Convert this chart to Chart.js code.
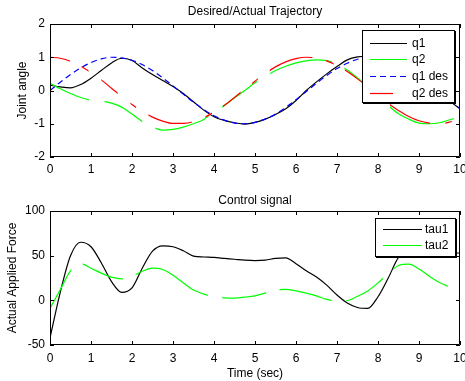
<!DOCTYPE html>
<html>
<head>
<meta charset="utf-8">
<script src="https://cdn.jsdelivr.net/npm/chart.js@4.4.1/dist/chart.umd.min.js"></script>
<style>
    html, body { margin: 0; padding: 0; background: #fff; }
    #wrap { position: relative; width: 465px; height: 381px; }
    canvas { position: absolute; left: 0; }
</style>
</head>
<body>
<div id="wrap">
    <canvas id="trajectory" width="465" height="190" style="top:0"></canvas>
    <canvas id="control" width="465" height="191" style="top:190px"></canvas>
</div>
<script>
// time axis (sec)
const time = [0, 0.25, 0.5, 0.75, 1, 1.25, 1.5, 1.75, 2, 2.25, 2.5, 2.75, 3, 3.25, 3.5, 3.75,
    4, 4.25, 4.5, 4.75, 5, 5.25, 5.5, 5.75, 6, 6.25, 6.5, 6.75, 7, 7.25, 7.5, 7.75,
    8, 8.25, 8.5, 8.75, 9, 9.25, 9.5, 9.75, 10];

// joint angles (top plot)
const q1 = [0.16, 0.11, 0.08, 0.18, 0.37, 0.6, 0.83, 0.97, 0.9, 0.68, 0.48, 0.3, 0.12, -0.09, -0.34, -0.59,
    -0.79, -0.9, -0.97, -1.01, -0.96, -0.86, -0.72, -0.55, -0.3, 0.0, 0.26, 0.5, 0.72, 0.92, 1.01, 1.03,
    1.0, 0.93, 0.8, 0.62, 0.42, 0.18, -0.08, -0.32, -0.55];
const q2 = [0.22, 0.05, -0.09, -0.21, -0.29, -0.31, -0.38, -0.5, -0.71, -0.93, -1.1, -1.19, -1.17, -1.1, -1.0, -0.87,
    -0.64, -0.45, -0.22, 0.0, 0.23, 0.42, 0.6, 0.73, 0.83, 0.89, 0.92, 0.9, 0.79, 0.62, 0.38, 0.12,
    -0.15, -0.45, -0.7, -0.86, -0.98, -1.0, -0.97, -0.88, -0.8];
const q1Des = [0, 0.25, 0.48, 0.68, 0.84, 0.95, 1.0, 0.98, 0.91, 0.78, 0.6, 0.38, 0.14, -0.11, -0.35, -0.57,
    -0.76, -0.89, -0.98, -1.0, -0.96, -0.86, -0.71, -0.51, -0.28, -0.03, 0.22, 0.45, 0.66, 0.82, 0.94, 0.99,
    0.99, 0.92, 0.8, 0.62, 0.41, 0.18, -0.08, -0.32, -0.54];
const q2Des = [1.0, 0.97, 0.88, 0.73, 0.54, 0.32, 0.07, -0.18, -0.42, -0.63, -0.8, -0.92, -0.99, -0.99, -0.94, -0.82,
    -0.65, -0.45, -0.21, 0.04, 0.28, 0.51, 0.71, 0.86, 0.96, 1.0, 0.98, 0.89, 0.75, 0.57, 0.35, 0.11,
    -0.15, -0.39, -0.6, -0.78, -0.91, -0.98, -1.0, -0.95, -0.84];

// control signal (bottom plot)
const tau1 = [-42, 9, 50, 65, 60, 42, 21, 9, 14, 36, 55, 61, 60, 55.5, 49.5, 48.5,
    48, 47, 46, 45, 44.5, 45, 47, 47.5, 41, 33, 26, 17, 6, -3, -8, -9,
    4, 25, 48, 57, 58, 56, 54, 53, 53];
const tau2 = [-9, 12, 33, 41, 36, 30.5, 26, 24, 27, 32.5, 36, 34.5, 28, 19.5, 11.5, 7,
    4, 2.7, 2.5, 3.5, 5, 8, 11.5, 12.3, 10.5, 8, 5, 1, -1, -0.5, 4.5, 10.5,
    19.5, 30, 39, 40.5, 35, 27, 20, 15, 11];

const yTicksTop = [-2, -1, 0, 1, 2];
const yTicksBottom = [-50, 0, 50, 100];

// 선이 끊겨 보이는 구간 재현 (보이는 시간 구간)
const q2Shown = [[0, 0.95], [1.33, 2.25], [2.57, 3.87], [4.2, 5.05], [5.37, 6.88], [7.18, 8.0], [8.29, 9.85]];
const q2DesShown = [[0, 0.49], [0.77, 0.94], [1.25, 1.65], [1.96, 2.1], [2.4, 3.46], [3.79, 3.95], [4.22, 4.65],
    [4.93, 5.07], [5.36, 6.4], [6.73, 6.92], [7.19, 8.0], [8.29, 9.27], [9.64, 9.8]];
const tau2Shown = [[0, 0.52], [0.8, 1.78], [2.09, 3.85], [4.2, 5.27], [5.6, 6.87], [7.22, 8.12], [8.37, 9.7]];

const BLACK = '#000000', GREEN = '#00ff00', BLUE = '#0000ff', RED = '#ff0000';
const LINE_W = 1.2;
const FONT = '"Liberation Sans", Arial, Helvetica, sans-serif';
Chart.defaults.font.family = FONT;
Chart.defaults.font.size = 12;
Chart.defaults.color = '#000';

// clip a dataset to its visible spans
function spanClip(spans) {
    return {
        id: 'spanClip',
        beforeDatasetDraw(chart, args) {
            const s = spans[args.index];
            if (!s) return;
            const ctx = chart.ctx, x = chart.scales.x;
            ctx.save();
            ctx.beginPath();
            s.forEach(([a, b]) => {
                const x0 = x.getPixelForValue(a), x1 = x.getPixelForValue(b);
                ctx.rect(x0, 0, x1 - x0, chart.height);
            });
            ctx.clip();
        },
        afterDatasetDraw(chart, args) {
            if (spans[args.index]) chart.ctx.restore();
        }
    };
}

// matlab style box with inward ticks
const frame = {
    id: 'frame',
    afterDatasetsDraw(chart) {
        const {ctx, chartArea: a, scales: {x, y}} = chart;
        const L = 4;
        ctx.save();
        ctx.strokeStyle = '#000';
        ctx.lineWidth = 1;
        ctx.beginPath();
        ctx.rect(a.left + 0.5, a.top + 0.5, a.right - a.left - 1, a.bottom - a.top - 1);
        x.ticks.forEach(t => {
            const px = Math.round(x.getPixelForValue(t.value)) + 0.5;
            ctx.moveTo(px, a.bottom); ctx.lineTo(px, a.bottom - L);
            ctx.moveTo(px, a.top); ctx.lineTo(px, a.top + L);
        });
        y.ticks.forEach(t => {
            const py = Math.round(y.getPixelForValue(t.value)) + 0.5;
            ctx.moveTo(a.left, py); ctx.lineTo(a.left + L, py);
            ctx.moveTo(a.right, py); ctx.lineTo(a.right - L, py);
        });
        ctx.stroke();
        ctx.restore();
    }
};

function boxLegend(o) {
    return {
        id: 'boxLegend',
        afterDraw(chart) {
            const {ctx, chartArea: a} = chart;
            const x0 = Math.round(a.right - o.right - o.width);
            const y0 = Math.round(a.top + o.top);
            ctx.save();
            ctx.fillStyle = '#fff';
            ctx.fillRect(x0, y0, o.width, o.height);
            ctx.strokeStyle = '#000';
            ctx.lineWidth = 1;
            ctx.setLineDash([]);
            ctx.strokeRect(x0 + 0.5, y0 + 0.5, o.width, o.height);
            ctx.beginPath();
            ctx.moveTo(x0 + o.width + 1.5, y0 + 1); ctx.lineTo(x0 + o.width + 1.5, y0 + o.height + 2);
            ctx.moveTo(x0 + 1, y0 + o.height + 1.5); ctx.lineTo(x0 + o.width + 2, y0 + o.height + 1.5);
            ctx.stroke();
            ctx.font = '12px ' + FONT;
            ctx.textBaseline = 'middle';
            o.items.forEach((it, i) => {
                const cy = Math.round(y0 + o.first + o.row * i) + 0.5;
                ctx.save();
                ctx.strokeStyle = it.color;
                ctx.lineWidth = LINE_W;
                ctx.setLineDash(it.dash || []);
                ctx.beginPath();
                ctx.moveTo(x0 + o.lineX, cy);
                ctx.lineTo(x0 + o.lineX + (it.len || o.lineLen), cy);
                ctx.stroke();
                ctx.restore();
                ctx.fillStyle = '#000';
                ctx.fillText(it.text, x0 + o.textX, cy);
            });
            ctx.restore();
        }
    };
}

function makeChart(canvas, datasets, spans, cfg) {
    return new Chart(canvas, {
        type: 'line',
        data: { labels: time, datasets: datasets },
        options: {
            responsive: false,
            animation: false,
            events: [],
            layout: { padding: { left: 0, right: 5, top: 0, bottom: 0 } },
            elements: { point: { radius: 0 }, line: { borderWidth: LINE_W, cubicInterpolationMode: 'monotone' } },
            scales: {
                x: {
                    type: 'linear', min: 0, max: 10,
                    grid: { display: false, drawTicks: false },
                    border: { display: false },
                    ticks: { stepSize: 1, padding: cfg.xPad, maxRotation: 0, autoSkip: false },
                    title: cfg.xTitle
                        ? { display: true, text: cfg.xTitle, padding: { top: 0, bottom: 0 } }
                        : { display: false },
                    afterFit: s => { s.height = cfg.xHeight; s.paddingLeft = 0; s.paddingRight = 0; }
                },
                y: {
                    min: cfg.yTicks[0], max: cfg.yTicks[cfg.yTicks.length - 1],
                    grid: { display: false, drawTicks: false },
                    border: { display: false },
                    afterBuildTicks: s => { s.ticks = cfg.yTicks.map(v => ({ value: v })); },
                    ticks: { padding: 5 },
                    title: { display: true, text: cfg.yTitle, padding: { top: cfg.yTitlePad, bottom: 0 } },
                    afterFit: s => { s.width = 50; s.paddingTop = 0; s.paddingBottom = 0; }
                }
            },
            plugins: {
                legend: { display: false },
                tooltip: { enabled: false },
                title: {
                    display: true, text: cfg.title, fullSize: false,
                    font: { size: 12, weight: 'normal' },
                    padding: cfg.titlePad
                }
            }
        },
        plugins: [spanClip(spans), frame, boxLegend(cfg.legend)]
    });
}

makeChart(document.getElementById('trajectory'), [
    { label: 'q1', data: q1, borderColor: BLACK, order: 4 },
    { label: 'q2', data: q2, borderColor: GREEN, order: 3 },
    { label: 'q1 des', data: q1Des, borderColor: BLUE, borderDash: [6, 4], order: 2 },
    { label: 'q2 des', data: q2Des, borderColor: RED, order: 1 }
], [null, q2Shown, null, q2DesShown], {
    title: 'Desired/Actual Trajectory',
    titlePad: { top: 4.5, bottom: 5.1 },
    yTitle: 'Joint angle', yTitlePad: 15,
    yTicks: yTicksTop,
    xHeight: 33, xPad: 5,
    legend: {
        right: 6, top: 6, width: 92, height: 72, first: 12.5, row: 16.7, lineX: 8, lineLen: 37, textX: 50,
        items: [
            { text: 'q1', color: BLACK },
            { text: 'q2', color: GREEN },
            { text: 'q1 des', color: BLUE, dash: [6, 4] },
            { text: 'q2 des', color: RED, len: 23 }
        ]
    }
});

makeChart(document.getElementById('control'), [
    { label: 'tau1', data: tau1, borderColor: BLACK, order: 2 },
    { label: 'tau2', data: tau2, borderColor: GREEN, order: 1 }
], [null, tau2Shown], {
    title: 'Control signal',
    titlePad: { top: 3, bottom: 3.6 },
    yTitle: 'Actual Applied Force', yTitlePad: 5.5,
    yTicks: yTicksBottom,
    xHeight: 36, xPad: 6, xTitle: 'Time (sec)',
    legend: {
        right: 5, top: 7, width: 80, height: 38, first: 11.3, row: 15.7, lineX: 8, lineLen: 39, textX: 50,
        items: [
            { text: 'tau1', color: BLACK },
            { text: 'tau2', color: GREEN }
        ]
    }
});
</script>
</body>
</html>
